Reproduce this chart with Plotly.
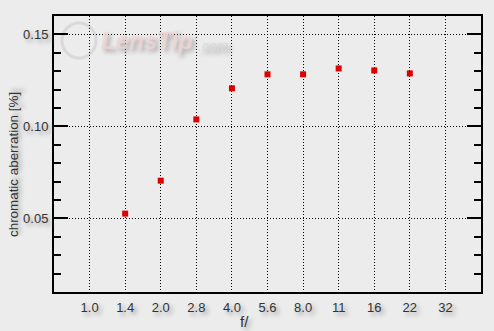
import plotly.graph_objects as go

apertures = ["1.0", "1.4", "2.0", "2.8", "4.0", "5.6", "8.0", "11", "16", "22", "32"]
point_apertures = ["1.4", "2.0", "2.8", "4.0", "5.6", "8.0", "11", "16", "22"]
ca_values = [0.0526, 0.0705, 0.1038, 0.1207, 0.1283, 0.1283, 0.1315, 0.1304, 0.1288]
y_ticks = [0.05, 0.10, 0.15]
y_labels = ["0.05", "0.10", "0.15"]

BG = "#ececec"
shadow = "3px 3px 4px #9a9a9a"
fam = "Arial, Liberation Sans, sans-serif"
font = dict(family=fam, size=12, color="#333333", shadow=shadow)

fig = go.Figure()
fig.add_trace(go.Scatter(
    x=point_apertures, y=ca_values, mode="markers",
    marker=dict(symbol="square", size=6, color="#dd0000", line=dict(width=0)),
    showlegend=False, hoverinfo="skip",
))

fig.update_layout(
    width=494, height=331,
    margin=dict(l=54, r=13, t=16, b=39),
    paper_bgcolor=BG, plot_bgcolor=BG,
    font=font,
    xaxis=dict(
        type="category", categoryorder="array", categoryarray=apertures,
        range=[-1, len(apertures)], automargin=False,
        showgrid=True, gridcolor="black", gridwidth=1, griddash="1px,2px",
        showline=True, linecolor="black", linewidth=2, mirror=True,
        ticks="", tickfont=dict(family=fam, size=13, color="#333333", shadow=shadow),
        ticklabelstandoff=2,
        zeroline=False, fixedrange=True,
    ),
    yaxis=dict(
        range=[0.01, 0.16], automargin=False,
        tickvals=y_ticks, ticktext=y_labels,
        showgrid=True, gridcolor="black", gridwidth=1, griddash="1px,2px",
        showline=True, linecolor="black", linewidth=2, mirror="ticks",
        ticks="inside", ticklen=14, tickwidth=1.5, tickcolor="black",
        minor=dict(dtick=0.01, tick0=0, ticks="inside", ticklen=7, tickwidth=1.5,
                   tickcolor="black", showgrid=False),
        tickfont=dict(family=fam, size=13, color="#333333", shadow=shadow),
        ticklabelstandoff=1,
        zeroline=False, fixedrange=True,
    ),
)

# y-axis title
fig.add_annotation(text="chromatic aberration [%]", xref="paper", yref="paper",
                   x=0, xshift=-41, y=(292 - 165) / 276, textangle=-90,
                   showarrow=False, xanchor="center", yanchor="middle",
                   font=dict(family=fam, size=13.4, color="#333333", shadow=shadow))

# x-axis title (placed left of centre as in the reference)
fig.add_annotation(text="f/", xref="paper", yref="paper", x=0.447, y=0, yshift=-29,
                   showarrow=False, font=dict(family=fam, size=15, color="#333333", shadow=shadow),
                   xanchor="center", yanchor="middle")

# faint watermark
fig.add_shape(type="circle", xref="paper", yref="paper",
              x0=(62 - 54) / 427, x1=(96 - 54) / 427, y0=(292 - 58) / 276, y1=(292 - 23) / 276,
              line=dict(color="rgba(205,205,205,0.6)", width=3), layer="below")
fig.add_annotation(text="<b><i>LensTip</i></b>", xref="paper", yref="paper",
                   x=(99 - 54) / 427, y=(292 - 41) / 276, xanchor="left", yanchor="middle",
                   showarrow=False, font=dict(family=fam, size=24, color="rgba(240,212,212,0.8)"))
fig.add_annotation(text="<i>.com</i>", xref="paper", yref="paper",
                   x=(196 - 54) / 427, y=(292 - 46) / 276, xanchor="left", yanchor="middle",
                   showarrow=False, font=dict(family=fam, size=14, color="rgba(218,218,218,0.9)"))

fig.write_html("out.html")
